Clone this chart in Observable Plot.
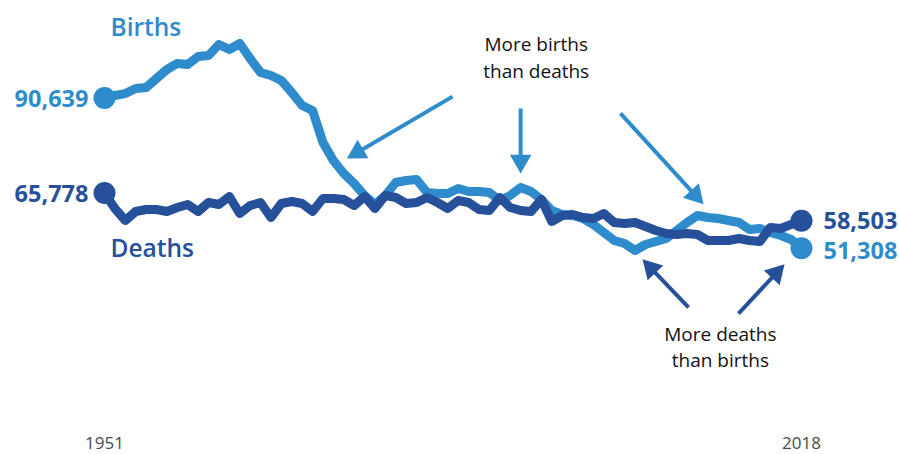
<!DOCTYPE html>
<html>
<head>
<meta charset="utf-8">
<script src="https://cdn.jsdelivr.net/npm/d3@7"></script>
<script src="https://cdn.jsdelivr.net/npm/@observablehq/plot@0.6"></script>
<style>
  html, body { margin: 0; padding: 0; background: #ffffff; }
  #chart svg { display: block; }
</style>
</head>
<body>
<div id="chart"></div>
<script>
// ---- Data ----
const years = d3.range(1951, 2019);
const birthsValues = [
  90639, 91300, 91800, 93130, 93390, 95750, 98100, 99680, 99410, 101510,
  101770, 104650, 103340, 104910, 100980, 97320, 96530, 95220, 92080, 88680,
  87370, 78990, 74280, 70880, 68260, 65120, 62760, 65120, 68520, 69040,
  69300, 65900, 65640, 65640, 66950, 66160, 66160, 65900, 63810, 65120,
  67210, 66160, 64070, 61190, 60140, 59880, 59100, 57520, 55430, 53340,
  52550, 50720, 52290, 53070, 53860, 55950, 58050, 59880, 59360, 59100,
  58570, 58050, 56220, 56480, 55430, 54650, 53600, 51308
];
const deathsValues = [
  65778, 61710, 58570, 60930, 61450, 61450, 60930, 61980, 62760, 60930,
  63280, 62760, 64860, 60400, 62500, 63280, 59360, 63020, 63550, 63020,
  60930, 64330, 64330, 64070, 62500, 64860, 61710, 65120, 64590, 63020,
  63280, 64590, 63280, 61710, 63810, 63280, 61450, 61190, 64590, 61980,
  61190, 60930, 64070, 58310, 59880, 60140, 59360, 59100, 60400, 58050,
  57790, 58050, 57000, 55950, 55170, 54910, 55170, 54910, 53340, 53340,
  53340, 53860, 53340, 53070, 56740, 56480, 57520, 58503
];
const tickYears = [1951, 2018];
const seriesNames = ["Births", "Deaths"];
const seriesLabelYears = [1951, 1951];
const seriesLabelValues = [108800, 51200];
const annotationTexts = ["More births\nthan deaths", "More deaths\nthan births"];
const annotationYears = [1992.5, 2010.2];
const annotationValues = [101600, 25900];
// arrows: tail (year, value) -> tip (year, value); kind 0 = births colour, 1 = deaths colour
const arrowTailYears = [1984.45, 1991.0, 2000.6, 2007.14, 2011.94];
const arrowTailValues = [91000, 87900, 86600, 35800, 34200];
const arrowTipYears = [1974.3, 1991.0, 2008.58, 2002.72, 2016.37];
const arrowTipValues = [74800, 70900, 62800, 48400, 47100];
const arrowKinds = [0, 0, 0, 1, 1];

// ---- Styling / layout ----
const colors = ["#2e8ccd", "#27509b"];
const W = 899, H = 454;
const mL = 104, mR = 98, mT = 0, mB = 18;
const xDomain = [1951, 2018];
const yDomain = [2023, 116168];

const births = years.map((year, i) => ({year, value: birthsValues[i], series: 0}));
const deaths = years.map((year, i) => ({year, value: deathsValues[i], series: 1}));
const ends = [births[0], births[births.length - 1], deaths[0], deaths[deaths.length - 1]];
const fmt = d3.format(",");

const sx = (W - mL - mR) / (xDomain[1] - xDomain[0]);
const sy = (H - mT - mB) / (yDomain[1] - yDomain[0]);
const headR = 8;
const headSize = headR * headR * Math.PI;
const tipDist = 2 * Math.sqrt(headSize / (Math.sqrt(3) * 3));
const arrows = arrowKinds.map((k, i) => {
  const dxp = (arrowTipYears[i] - arrowTailYears[i]) * sx;
  const dyp = -(arrowTipValues[i] - arrowTailValues[i]) * sy;
  const len = Math.hypot(dxp, dyp);
  const ux = dxp / len, uy = dyp / len;
  return {
    kind: k,
    x1: arrowTailYears[i], y1: arrowTailValues[i],
    hx: arrowTipYears[i] - tipDist * ux / sx,
    hy: arrowTipValues[i] + tipDist * uy / sy,
    angle: Math.atan2(dxp, -dyp) * 180 / Math.PI
  };
});

const seriesLabels = seriesNames.map((t, i) => ({t, x: seriesLabelYears[i], y: seriesLabelValues[i], k: i}));
const annotations = annotationTexts.map((t, i) => ({t, x: annotationYears[i], y: annotationValues[i]}));

const chart = Plot.plot({
  width: W,
  height: H,
  marginLeft: mL,
  marginRight: mR,
  marginTop: mT,
  marginBottom: mB,
  style: {fontFamily: "'Open Sans', sans-serif", background: "#ffffff", color: "#444"},
  x: {domain: xDomain, axis: null},
  y: {domain: yDomain, axis: null},
  marks: [
    // x tick labels, placed by the x scale below the frame
    Plot.text(tickYears, {x: d => d, frameAnchor: "bottom", lineAnchor: "middle", dy: 7, text: d => String(d), fontSize: 17, fill: "#4a4a4a"}),
    Plot.line(births, {x: "year", y: "value", stroke: colors[0], strokeWidth: 9, strokeLinejoin: "round", strokeLinecap: "round"}),
    Plot.line(deaths, {x: "year", y: "value", stroke: colors[1], strokeWidth: 9, strokeLinejoin: "round", strokeLinecap: "round"}),
    Plot.dot(ends, {x: "year", y: "value", r: 11, fill: d => colors[d.series], stroke: null}),
    Plot.text(ends.filter(d => d.year === 1951), {x: "year", y: "value", text: d => fmt(d.value), textAnchor: "end", dx: -16, dy: 1, fontSize: 23.5, fontWeight: "bold", fill: d => colors[d.series]}),
    Plot.text(ends.filter(d => d.series === 1 && d.year === 2018), {x: "year", y: "value", text: d => fmt(d.value), textAnchor: "start", dx: 22, dy: 1, fontSize: 23.5, fontWeight: "bold", fill: colors[1]}),
    Plot.text(ends.filter(d => d.series === 0 && d.year === 2018), {x: "year", y: "value", text: d => fmt(d.value), textAnchor: "start", dx: 22, dy: 3, fontSize: 23.5, fontWeight: "bold", fill: colors[0]}),
    Plot.text(seriesLabels, {x: "x", y: "y", text: "t", textAnchor: "start", dx: 6, fontSize: 24.5, fontWeight: 600, fill: d => colors[d.k]}),
    Plot.text(annotations, {x: "x", y: "y", text: "t", textAnchor: "middle", fontSize: 19, lineHeight: 1.38, fill: "#111"}),
    Plot.link(arrows, {x1: "x1", y1: "y1", x2: "hx", y2: "hy", stroke: d => colors[d.kind], strokeWidth: 4}),
    Plot.dot(arrows, {x: "hx", y: "hy", symbol: "triangle", r: headR, rotate: "angle", fill: d => colors[d.kind], stroke: null})
  ]
});
document.getElementById("chart").appendChild(chart);
</script>
</body>
</html>
